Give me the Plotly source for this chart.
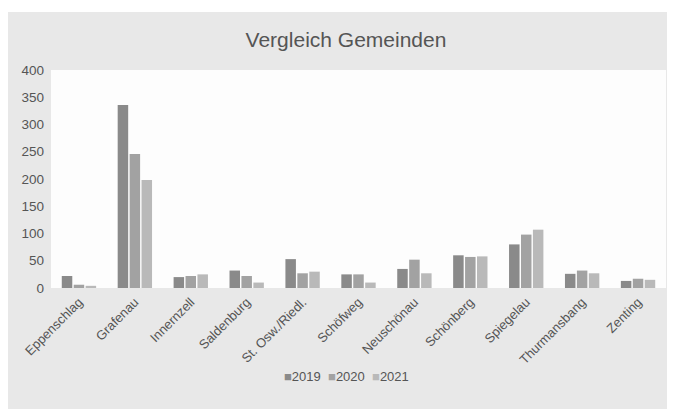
import plotly.graph_objects as go

gemeinden = ["Eppenschlag", "Grafenau", "Innernzell", "Saldenburg", "St. Osw./Riedl.",
             "Schöfweg", "Neuschönau", "Schönberg", "Spiegelau", "Thurmansbang", "Zenting"]
v2019 = [22, 336, 20, 32, 53, 25, 35, 60, 80, 26, 13]
v2020 = [6, 246, 22, 22, 27, 25, 52, 57, 98, 32, 17]
v2021 = [4, 198, 25, 10, 30, 10, 27, 58, 107, 27, 15]
years = ["2019", "2020", "2021"]
colors = ["#8a8a8a", "#a2a2a2", "#b9b9b9"]

FONT = "Liberation Sans, Arial, sans-serif"
fig = go.Figure()
for name, vals, c in zip(years, [v2019, v2020, v2021], colors):
    fig.add_trace(go.Bar(x=gemeinden, y=vals, name=name, marker_color=c,
                         marker_line_width=0))

legend_text = "&nbsp;&nbsp;".join(
    f"<span style='color:{c}'>■</span>{y}" for y, c in zip(years, colors))

W, H = 667, 401
fig.update_layout(
    width=W, height=H,
    margin=dict(l=43, r=9, t=62, b=121, autoexpand=False),
    paper_bgcolor="#e8e8e8",
    plot_bgcolor="#fdfdfd",
    barmode="group", bargap=0.36, bargroupgap=0.12,
    font=dict(family=FONT, color="#555555"),
    title=dict(text="Vergleich Gemeinden", x=338 / W, xanchor="center",
               y=1 - 32 / H, yanchor="middle", yref="container",
               font=dict(size=21, color="#555555", family=FONT)),
    xaxis=dict(tickangle=-45, tickfont=dict(size=13, color="#555555"),
               showgrid=False, showline=False, ticks="", ticklabelstandoff=3),
    yaxis=dict(range=[0, 400], dtick=50, showgrid=False, zeroline=False,
               tickfont=dict(size=13.5, color="#555555"), ticks="", ticklen=0,
               ticklabelstandoff=6),
    showlegend=False,
    annotations=[dict(text=legend_text, xref="paper", yref="paper",
                      x=0.48, y=-0.404, xanchor="center", yanchor="middle",
                      showarrow=False, font=dict(size=13, color="#555555"))],
    shapes=[
        dict(type="rect", xref="paper", yref="paper", x0=-0.2, x1=1.2,
             y0=(280 - 4) / 218, y1=1.5, fillcolor="white", line_width=0, layer="above"),
    ],
)

fig.write_html("out.html")
